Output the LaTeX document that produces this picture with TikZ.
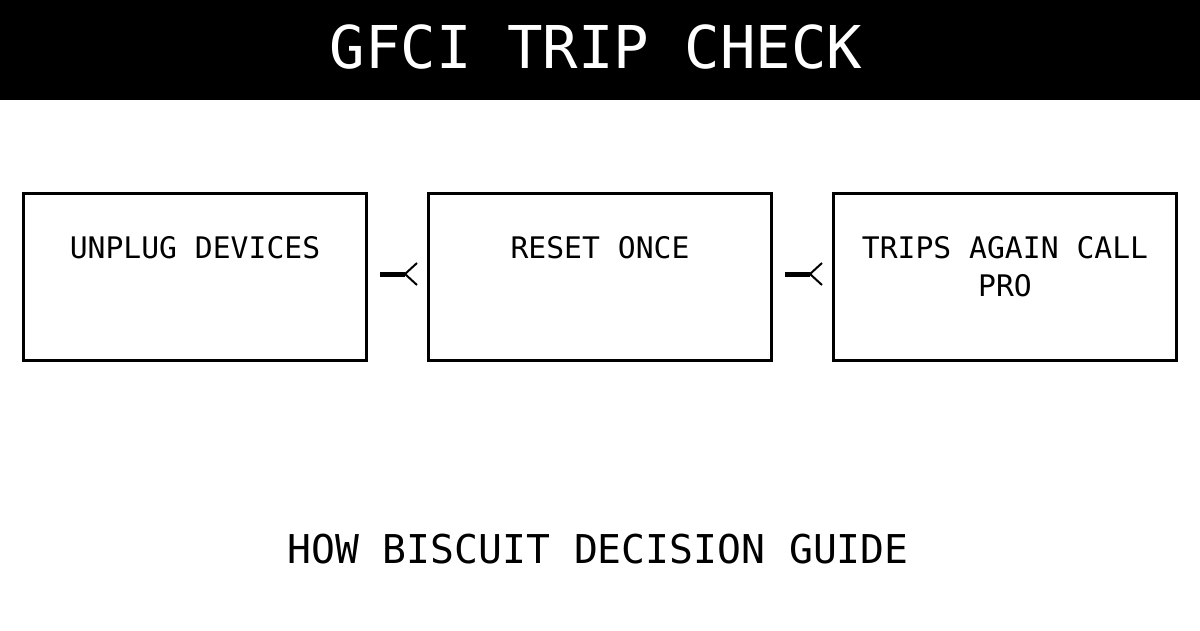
\documentclass[tikz,border=0pt]{standalone}
\usepackage{fontspec}
\setmonofont{DejaVu Sans Mono}
\begin{document}
\begin{tikzpicture}[x=1pt,y=-1pt,
  stepbox/.style={draw=black, line width=3.5pt, minimum width=343pt, minimum height=167pt, inner sep=0pt, outer sep=0pt},
  boxtext/.style={anchor=base, inner sep=0pt, align=center, font=\ttfamily\fontsize{29.7}{38}\selectfont},
  shaft/.style={line width=5pt},
  barb/.style={line width=2pt}]
\useasboundingbox (0,0) rectangle (1200,630);
\fill[black] (0,0) rectangle (1200,100);
\node[anchor=base, inner sep=0pt, text=white, font=\ttfamily\fontsize{59}{59}\selectfont] (title) at (596,68) {GFCI TRIP CHECK};
\node[stepbox] (b1) at (195,277) {};
\node[stepbox] (b2) at (600,277) {};
\node[stepbox] (b3) at (1005,277) {};
\node[boxtext] (t1) at ([yshift=-64.5pt]b1.north) {UNPLUG DEVICES};
\node[boxtext] (t2) at ([yshift=-64.5pt]b2.north) {RESET ONCE};
\node[boxtext] (t3) at ([yshift=-102.5pt]b3.north) {TRIPS AGAIN CALL\\PRO};
\coordinate (c1) at (405,274);
\coordinate (c2) at (810,274);
\draw[shaft] (b1.east |- c1) ++(13.5,0) coordinate (s1) -- (c1);
\draw[shaft] (b2.east |- c2) ++(13.5,0) coordinate (s2) -- (c2);
\draw[barb] ([shift={(12,-11)}]c1) -- (c1) -- ([shift={(12,11)}]c1);
\draw[barb] ([shift={(12,-11)}]c2) -- (c2) -- ([shift={(12,11)}]c2);
\node[anchor=base, inner sep=0pt, font=\ttfamily\fontsize{39.7}{40}\selectfont] (foot) at (598,563) {HOW BISCUIT DECISION GUIDE};
\end{tikzpicture}
\end{document}
